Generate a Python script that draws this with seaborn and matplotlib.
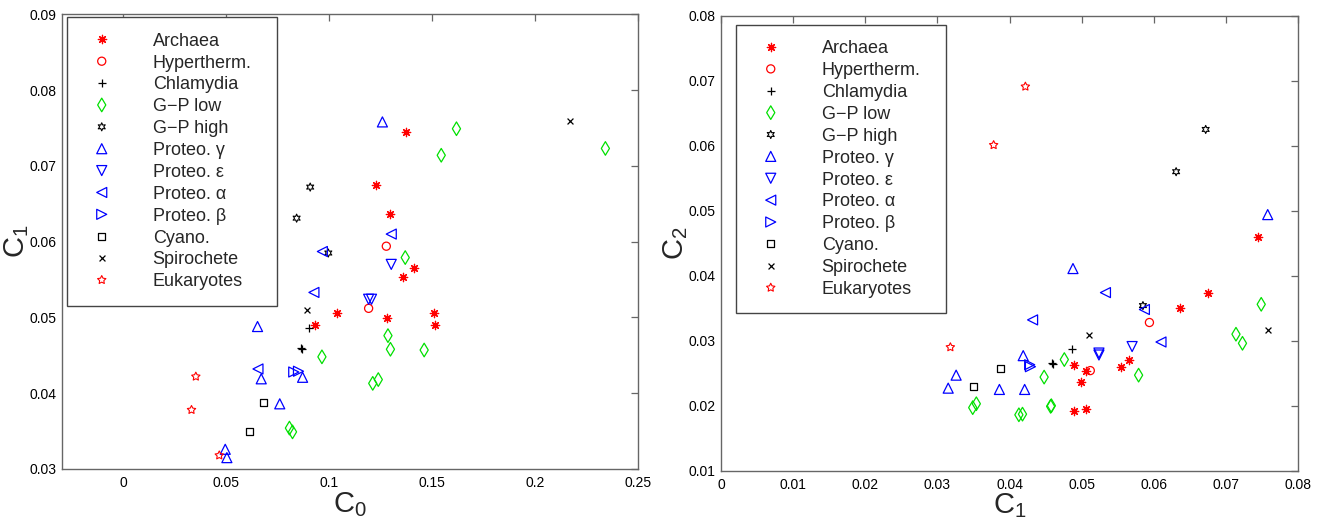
import numpy as np
import pandas as pd
import matplotlib
matplotlib.use("Agg")
import matplotlib.pyplot as plt
import seaborn as sns

# ---------------- data ----------------
groups = ["Archaea", "Hypertherm.", "Chlamydia", "G\u2212P low", "G\u2212P high",
          "Proteo. \u03b3", "Proteo. \u03b5", "Proteo. \u03b1", "Proteo. \u03b2",
          "Cyano.", "Spirochete", "Eukaryotes"]

archaea_c0 = [0.1376, 0.1229, 0.1296, 0.1413, 0.1359, 0.1038, 0.1511, 0.1282, 0.1515, 0.0930]
archaea_c1 = [0.0745, 0.0675, 0.0637, 0.0565, 0.0554, 0.0506, 0.0506, 0.0499, 0.0490, 0.0490]
archaea_c2 = [0.0459, 0.0373, 0.0350, 0.0270, 0.0259, 0.0254, 0.0195, 0.0236, 0.0263, 0.0192]

hyper_c0 = [0.1278, 0.1192]
hyper_c1 = [0.0594, 0.0512]
hyper_c2 = [0.0328, 0.0254]

chlam_c0 = [0.0901, 0.0862, 0.0866]
chlam_c1 = [0.0486, 0.0460, 0.0459]
chlam_c2 = [0.0287, 0.0264, 0.0266]

gplow_c0 = [0.1619, 0.1545, 0.2343, 0.1370, 0.1286, 0.1298, 0.1462, 0.0965, 0.1239, 0.1212, 0.0807, 0.0822]
gplow_c1 = [0.0749, 0.0714, 0.0723, 0.0579, 0.0476, 0.0458, 0.0457, 0.0448, 0.0418, 0.0413, 0.0354, 0.0349]
gplow_c2 = [0.0356, 0.0310, 0.0296, 0.0247, 0.0271, 0.0200, 0.0199, 0.0244, 0.0187, 0.0186, 0.0203, 0.0197]

gphigh_c0 = [0.0908, 0.0842, 0.0996]
gphigh_c1 = [0.0672, 0.0631, 0.0585]
gphigh_c2 = [0.0625, 0.0560, 0.0354]

gamma_c0 = [0.1259, 0.0652, 0.0670, 0.0871, 0.0760, 0.0495, 0.0503]
gamma_c1 = [0.0758, 0.0488, 0.0419, 0.0421, 0.0386, 0.0326, 0.0315]
gamma_c2 = [0.0494, 0.0411, 0.0277, 0.0225, 0.0225, 0.0247, 0.0227]

eps_c0 = [0.1302, 0.1192, 0.1206]
eps_c1 = [0.0570, 0.0524, 0.0524]
eps_c2 = [0.0291, 0.0281, 0.0278]

alpha_c0 = [0.1302, 0.0967, 0.0926, 0.0654]
alpha_c1 = [0.0610, 0.0587, 0.0533, 0.0432]
alpha_c2 = [0.0298, 0.0348, 0.0374, 0.0332]

beta_c0 = [0.0828, 0.0851]
beta_c1 = [0.0428, 0.0429]
beta_c2 = [0.0263, 0.0260]

cyano_c0 = [0.0683, 0.0615]
cyano_c1 = [0.0388, 0.0350]
cyano_c2 = [0.0257, 0.0230]

spiro_c0 = [0.2171, 0.0893]
spiro_c1 = [0.0759, 0.0510]
spiro_c2 = [0.0316, 0.0309]

euk_c0 = [0.0352, 0.0331, 0.0466]
euk_c1 = [0.0422, 0.0378, 0.0318]
euk_c2 = [0.0691, 0.0601, 0.0290]

x0_ticks = [0, 0.05, 0.1, 0.15, 0.2, 0.25]
y1_ticks = [0.03, 0.04, 0.05, 0.06, 0.07, 0.08, 0.09]
x1_ticks = [0, 0.01, 0.02, 0.03, 0.04, 0.05, 0.06, 0.07, 0.08]
y2_ticks = [0.01, 0.02, 0.03, 0.04, 0.05, 0.06, 0.07, 0.08]

# ---------------- assemble table ----------------
series = [
    (archaea_c0, archaea_c1, archaea_c2),
    (hyper_c0, hyper_c1, hyper_c2),
    (chlam_c0, chlam_c1, chlam_c2),
    (gplow_c0, gplow_c1, gplow_c2),
    (gphigh_c0, gphigh_c1, gphigh_c2),
    (gamma_c0, gamma_c1, gamma_c2),
    (eps_c0, eps_c1, eps_c2),
    (alpha_c0, alpha_c1, alpha_c2),
    (beta_c0, beta_c1, beta_c2),
    (cyano_c0, cyano_c1, cyano_c2),
    (spiro_c0, spiro_c1, spiro_c2),
    (euk_c0, euk_c1, euk_c2),
]
rows = []
for g, (a, b, c) in zip(groups, series):
    for v0, v1, v2 in zip(a, b, c):
        rows.append({"group": g, "C0": v0, "C1": v1, "C2": v2})
df = pd.DataFrame(rows)

RED, BLUE, GREEN, BLACK = "#ff0000", "#0000ff", "#00e000", "#000000"
style = {
    "Archaea":      dict(marker=(8, 2, 0), color=RED, s=36, filled=False, lw=0.9),
    "Hypertherm.":  dict(marker="o", color=RED, s=34, filled=True, lw=0.9),
    "Chlamydia":    dict(marker="+", color=BLACK, s=38, filled=False, lw=0.9),
    "G\u2212P low": dict(marker="d", color=GREEN, s=48, filled=True, lw=0.9),
    "G\u2212P high": dict(marker=(6, 1, 0), color=BLACK, s=34, filled=True, lw=0.8),
    "Proteo. \u03b3": dict(marker="^", color=BLUE, s=52, filled=True, lw=0.9),
    "Proteo. \u03b5": dict(marker="v", color=BLUE, s=52, filled=True, lw=0.9),
    "Proteo. \u03b1": dict(marker="<", color=BLUE, s=52, filled=True, lw=0.9),
    "Proteo. \u03b2": dict(marker=">", color=BLUE, s=52, filled=True, lw=0.9),
    "Cyano.":       dict(marker="s", color=BLACK, s=26, filled=True, lw=0.9),
    "Spirochete":   dict(marker="x", color=BLACK, s=18, filled=False, lw=0.9),
    "Eukaryotes":   dict(marker=(5, 1, 0), color=RED, s=40, filled=True, lw=0.8),
}

# ---------------- styling ----------------
sns.set_style("white")
plt.rcParams["font.family"] = ["Liberation Sans", "DejaVu Sans"]
plt.rcParams["mathtext.fontset"] = "custom"
plt.rcParams["mathtext.rm"] = "Liberation Sans"
plt.rcParams["mathtext.it"] = "Liberation Sans:italic"

fig = plt.figure(figsize=(13.22, 5.2), dpi=100)
ax1 = fig.add_axes([0.04667, 0.09808, 0.43570, 0.87442])
ax2 = fig.add_axes([0.54539, 0.09481, 0.43646, 0.87500])

panels = [
    (ax1, "C0", "C1", (-0.03, 0.25), (0.03, 0.09), x0_ticks, y1_ticks,
     r"$\mathrm{C}_0$", r"$\mathrm{C}_1$", (0.0087, 0.9934)),
    (ax2, "C1", "C2", (0.0, 0.08), (0.01, 0.08), x1_ticks, y2_ticks,
     r"$\mathrm{C}_1$", r"$\mathrm{C}_2$", (0.0255, 0.9796)),
]

SPINE = "#666666"
for ax, xc, yc, xl, yl, xt, yt, xlab, ylab, legpos in panels:
    for g in groups:
        st = style[g]
        sub = df[df["group"] == g]
        kws = dict(marker=st["marker"], s=st["s"], linewidth=st["lw"], label=g)
        if st["filled"]:
            kws.update(facecolor="none", edgecolor=st["color"])
        else:
            kws.update(color=st["color"])
        sns.scatterplot(data=sub, x=xc, y=yc, ax=ax, legend=False, **kws)
    ax.set_xlim(*xl)
    ax.set_ylim(*yl)
    ax.set_xticks(xt)
    ax.set_xticklabels([f"{v:g}" for v in xt])
    ax.set_yticks(yt)
    ax.set_yticklabels([f"{v:g}" for v in yt])
    ax.tick_params(direction="in", top=True, right=True, length=5, width=0.9,
                   color=SPINE, labelsize=10, labelcolor="black")
    ax.tick_params(axis="x", pad=5)
    ax.tick_params(axis="y", pad=4)
    for sp in ax.spines.values():
        sp.set_color(SPINE)
        sp.set_linewidth(1.0)
    ax.set_xlabel(xlab, fontsize=21, labelpad=0)
    ax.set_ylabel(ylab, fontsize=21, labelpad=-1)

    handles, labels = ax.get_legend_handles_labels()
    leg = ax.legend(handles, labels, loc="upper left",
                    bbox_to_anchor=(legpos[0], 0, 0.3646, legpos[1]),
                    mode="expand", borderaxespad=0, fontsize=13,
                    borderpad=0.85, handlelength=2.18, handletextpad=1.73,
                    labelspacing=0.27, scatterpoints=1, scatteryoffsets=[0.5],
                    fancybox=False, framealpha=1, edgecolor="#444444")
    leg.get_frame().set_linewidth(1.0)

fig.savefig("out.png", dpi=100)
